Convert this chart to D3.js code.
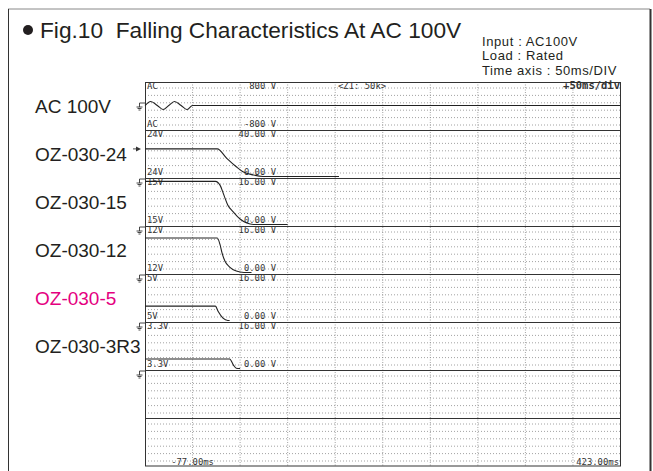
<!DOCTYPE html>
<html>
<head>
<meta charset="utf-8">
<script src="https://cdn.jsdelivr.net/npm/d3@7"></script>
<style>
  body { margin: 0; background: #fff; }
  svg { display: block; }
</style>
</head>
<body>
<script>
// zones of the recorder, top to bottom
const zoneNames = ["AC 100V", "OZ-030-24", "OZ-030-15", "OZ-030-12", "OZ-030-5", "OZ-030-3R3", "", ""];
const zoneTags = ["AC", "24V", "15V", "12V", "5V", "3.3V", "", ""];
const zoneMin = [-800, 0, 0, 0, 0, 0];
const zoneMax = [800, 40, 16, 16, 16, 16];
const zoneTopText = ["800 V", "40.00 V", "16.00 V", "16.00 V", "16.00 V", "16.00 V"];
const zoneBottomText = ["-800 V", "0.00 V", "0.00 V", "0.00 V", "0.00 V", "0.00 V"];
const highlight = "OZ-030-5";

const timeRange = [-77, 423];   // ms, 50ms/div
const timeLabels = ["-77.00ms", "423.00ms"];

// traces: [time ms, volts]
const ac100 = [[-77, 0], [-71, 141], [-64, 0], [-58, -141], [-52, 0], [-46, 141], [-39, 0], [-33, -141], [-27, 0], [423, 0]];
const oz24 = [[-77, 24], [-1, 24], [9, 15.8], [19, 8.5], [26, 4.2], [37, 1.3], [47, 0], [127, 0]];
const oz15 = [[-77, 15], [-3, 15], [2, 13.6], [6, 10.2], [10, 6.8], [16, 4.3], [23, 1.9], [30, 0.5], [37, 0], [73, 0]];
const oz12 = [[-77, 12], [-1, 12], [2, 9.6], [4, 6.8], [7, 4.0], [12, 1.9], [19, 0.5], [27, 0], [35, 0]];
const oz5 = [[-77, 5], [-3, 5], [0, 3.1], [5, 0.8], [10, 0], [12, 0]];
const oz3r3 = [[-77, 3.3], [12, 3.3], [16, 1.2], [19, 0.1], [23, 0]];
const traces = [ac100, oz24, oz15, oz12, oz5, oz3r3];

const width = 653, height = 471;
const svg = d3.select("body").append("svg").attr("width", width).attr("height", height);

const sans = "'Liberation Sans', Arial, sans-serif";
const mono = "'DejaVu Sans Mono', monospace";
const ink = "#231f20";

// outer frame
svg.append("line").attr("x1", 8).attr("x2", 650).attr("y1", 9).attr("y2", 9).attr("stroke", "#888");
svg.append("line").attr("x1", 8.5).attr("x2", 8.5).attr("y1", 9).attr("y2", height).attr("stroke", "#333");
svg.append("line").attr("x1", 650.5).attr("x2", 650.5).attr("y1", 9).attr("y2", height).attr("stroke", "#333").attr("stroke-width", 2);

// title
svg.append("circle").attr("cx", 28).attr("cy", 30).attr("r", 5).attr("fill", ink);
svg.append("text").attr("x", 40).attr("y", 37.5)
  .attr("font-family", sans).attr("font-size", 22.7).attr("fill", ink)
  .attr("xml:space", "preserve").style("white-space", "pre")
  .text("Fig.10  Falling Characteristics At AC 100V");

const notes = ["Input : AC100V", "Load : Rated", "Time axis : 50ms/DIV"];
svg.append("g").selectAll("text").data(notes).join("text")
  .attr("x", 482).attr("y", (d, i) => 45.5 + i * 14.6)
  .attr("font-family", sans).attr("font-size", 13).attr("letter-spacing", 0.6).attr("fill", ink)
  .text(d => d);

// scope area
const x = d3.scaleLinear().domain(timeRange).range([145, 620.5]);
const zone = d3.scaleBand().domain(d3.range(zoneNames.length)).range([82, 466]);
const zh = zone.bandwidth();

const grid = svg.append("g");
// vertical division lines, every 50ms
const divisions = d3.range(timeRange[0] + 50, timeRange[1], 50);
grid.selectAll("line.v").data(divisions).join("line")
  .attr("class", "v")
  .attr("x1", d => x(d)).attr("x2", d => x(d))
  .attr("y1", 82).attr("y2", 466)
  .attr("stroke", "#8a8a8a").attr("stroke-width", 0.8).attr("stroke-dasharray", "1,1.5");
// dotted rows inside each zone
const rows = [];
zone.domain().forEach(z => d3.range(6).forEach(k => rows.push(zone(z) + 6 + k * 7.4)));
grid.selectAll("line.h").data(rows).join("line")
  .attr("class", "h")
  .attr("x1", 145).attr("x2", 620.5).attr("y1", d => d).attr("y2", d => d)
  .attr("stroke", "#8a8a8a").attr("stroke-width", 0.8).attr("stroke-dasharray", "1,2");
// zone separators
grid.selectAll("line.s").data(zone.domain().slice(1)).join("line")
  .attr("class", "s")
  .attr("x1", 145).attr("x2", 620.5).attr("y1", d => zone(d) + 0.5).attr("y2", d => zone(d) + 0.5)
  .attr("stroke", "#333");
grid.append("rect").attr("x", 145.5).attr("y", 82.5).attr("width", 475).attr("height", 383.5)
  .attr("fill", "none").attr("stroke", "#333");

// scope texts
const st = svg.append("g").attr("font-family", mono).attr("font-size", 8.9).attr("fill", "#333");
zoneTopText.forEach((t, i) => {
  const top = zone(i), bot = zone(i) + zh;
  st.append("text").attr("x", 147).attr("y", top + 7).text(zoneTags[i]);
  st.append("text").attr("x", 276).attr("y", top + 7).attr("text-anchor", "end").text(t);
  st.append("text").attr("x", 147).attr("y", bot - 3).text(zoneTags[i]);
  st.append("text").attr("x", 276).attr("y", bot - 3).attr("text-anchor", "end").text(zoneBottomText[i]);
});
st.append("text").attr("x", 338).attr("y", 89).text("<Z1: 50k>");
st.append("text").attr("x", 620).attr("y", 89).attr("text-anchor", "end")
  .attr("font-size", 10.5).attr("font-weight", "bold").text("+50ms/div");
st.append("text").attr("x", x(timeRange[0] + 50)).attr("y", 464.5).attr("text-anchor", "middle").text(timeLabels[0]);
st.append("text").attr("x", 619).attr("y", 464.5).attr("text-anchor", "end").text(timeLabels[1]);

// traces
traces.forEach((data, i) => {
  const y = d3.scaleLinear().domain([zoneMin[i], zoneMax[i]]).range([zone(i) + zh - 1.5, zone(i) + 0.5]);
  const line = d3.line().x(d => x(d[0])).y(d => y(d[1])).curve(d3.curveMonotoneX);
  svg.append("path").datum(data).attr("d", line)
    .attr("fill", "none").attr("stroke", "#222").attr("stroke-width", 1.1);
});

// channel markers left of the scope
const mk = svg.append("g").attr("stroke", "#333").attr("fill", "none").attr("stroke-width", 0.9);
const markerY = [106, null, 182, 230, 278, 326, 374];
markerY.forEach(my => {
  if (my === null) return;
  mk.append("path").attr("d", `M139.5,${my - 3}H145M139.5,${my - 3}V${my + 1}M136.5,${my + 1}H142.5M137.5,${my + 2.5}H141.5M138.5,${my + 4}H140.5`);
});
{
  const y24 = d3.scaleLinear().domain([0, 40]).range([zone(1) + zh - 1.5, zone(1) + 0.5])(24);
  mk.append("path").attr("d", `M133,${y24}H136`);
  svg.append("path").attr("d", `M136,${y24 - 2.5}L141,${y24}L136,${y24 + 2.5}Z`).attr("fill", "#333");
}

// names on the left
svg.append("g").selectAll("text").data(zoneNames.filter(d => d)).join("text")
  .attr("x", 35).attr("y", (d, i) => zone(i) + 31)
  .attr("font-family", sans).attr("font-size", 19)
  .attr("fill", d => d === highlight ? "#e4007f" : ink)
  .text(d => d);
</script>
</body>
</html>
